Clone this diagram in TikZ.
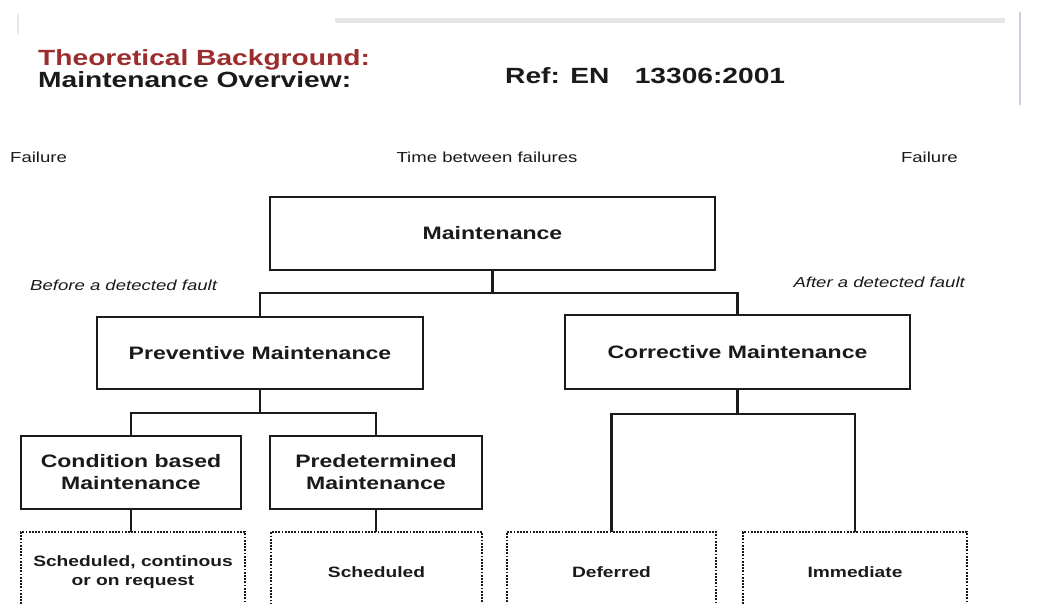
\documentclass[tikz,border=0pt]{standalone}
\usepackage{fontspec}
\setmainfont{Liberation Sans}
\usepackage{graphicx}
\newcommand{\hstr}[1]{\scalebox{1.28}[1]{#1}}
\definecolor{ink}{HTML}{1A1A1A}
\definecolor{titlered}{HTML}{9B2D2D}
\definecolor{faint}{HTML}{E6E6E6}
\definecolor{faintblue}{HTML}{C9CFDC}
\begin{document}
\begin{tikzpicture}[x=1pt,y=-1pt,
  box/.style={draw=ink, line width=2.3pt, inner sep=0pt, outer sep=0pt, align=center,
    text=ink, font=\fontsize{18}{22}\selectfont\bfseries},
  dotbox/.style={draw=ink, line width=2.2pt, dash pattern=on 1.8pt off 1.4pt, inner sep=0pt, outer sep=0pt,
    align=center, text=ink, font=\fontsize{15}{19}\selectfont\bfseries},
  conn/.style={draw=ink, line width=2.2pt},
  small/.style={inner sep=0pt, text=ink, font=\fontsize{14.5}{17}\selectfont},
  ital/.style={inner sep=0pt, text=ink, font=\fontsize{14.5}{17}\selectfont\itshape},
  title/.style={inner sep=0pt, font=\fontsize{22}{26}\selectfont\bfseries}]
\useasboundingbox (0,0) rectangle (1038,604);
\fill[white] (0,0) rectangle (1038,604);
\clip (0,0) rectangle (1038,604);

% faint scan artefacts
\draw[faint, line width=5pt] (335,21) -- (1005,21);
\draw[faintblue, line width=1.5pt] (1020,12) -- (1020,105);
\draw[faint, line width=2pt] (18,14) -- (18,34);

% headings
\node[title, text=titlered, anchor=base west] (t1) at (38,66) {\hstr{Theoretical Background:}};
\node[title, text=ink, anchor=base west] (t2) at (38,88) {\hstr{Maintenance Overview:}};
\node[title, text=ink, anchor=base west] (t3) at (505,84) {\hstr{Ref: EN\hspace{0.9em}13306:2001}};

\node[small, anchor=base west] (f1) at (10,163) {\hstr{Failure}};
\node[small, anchor=base] (tbf) at (487,163) {\hstr{Time between failures}};
\node[small, anchor=base east] (f2) at (958,163) {\hstr{Failure}};
\node[ital, anchor=base west] (bdf) at (30,290) {\hstr{Before a detected fault}};
\node[ital, anchor=base east] (adf) at (965,287) {\hstr{After a detected fault}};

% boxes
\node[box, minimum width=445pt, minimum height=73pt] (main) at (492.5,233.5) {\hstr{Maintenance}};
\node[box, minimum width=326pt, minimum height=72pt] (prev) at (260,353) {\hstr{Preventive Maintenance}};
\node[box, minimum width=345pt, minimum height=74pt] (corr) at (737.5,352) {\hstr{Corrective Maintenance}};
\node[box, minimum width=220pt, minimum height=73pt] (cond) at (131,472.5) {\hstr{Condition based}\\\hstr{Maintenance}};
\node[box, minimum width=212pt, minimum height=73pt] (pred) at (376,472.5) {\hstr{Predetermined}\\\hstr{Maintenance}};

\node[dotbox, minimum width=224pt, minimum height=80pt] (d1) at (133,572) {\hstr{Scheduled, continous}\\\hstr{or on request}};
\node[dotbox, minimum width=211pt, minimum height=80pt] (d2) at (376.5,572) {\hstr{Scheduled}};
\node[dotbox, minimum width=209pt, minimum height=80pt] (def) at (611.5,572) {\hstr{Deferred}};
\node[dotbox, minimum width=224pt, minimum height=80pt] (imm) at (855,572) {\hstr{Immediate}};

% connectors
\coordinate (j1) at (492.5,293);
\coordinate (j2) at (260,413);
\coordinate (j3) at (737.5,414);
\draw[conn] (main.south) -- (j1);
\draw[conn] (prev.north) |- (j1) -| (corr.north);
\draw[conn] (prev.south) -- (j2);
\draw[conn] (cond.north) |- (j2) -| (pred.north);
\draw[conn] (corr.south) -- (j3);
\draw[conn] (def.north) |- (j3) -| (imm.north);
\draw[conn] (cond.south) -- (cond.south |- d1.north);
\draw[conn] (pred.south) -- (pred.south |- d2.north);
\end{tikzpicture}
\end{document}
